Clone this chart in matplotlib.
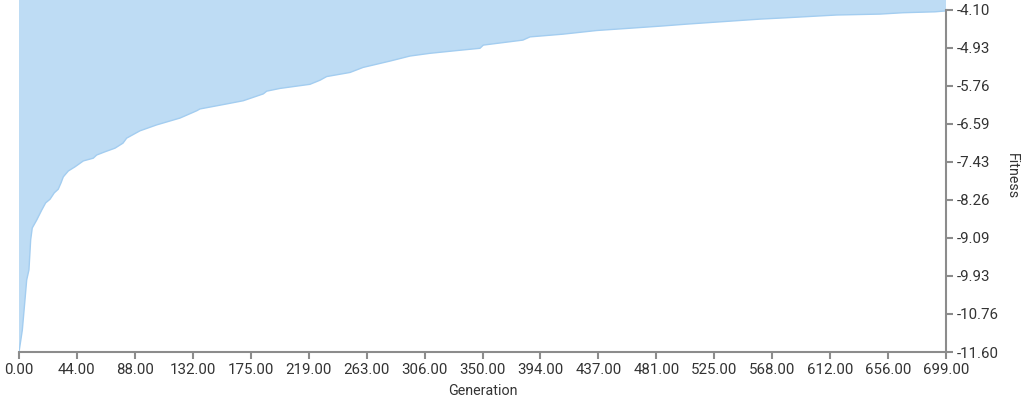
import matplotlib
matplotlib.use("Agg")
import matplotlib.pyplot as plt
import numpy as np

generation = [0, 2.5, 4.5, 5.8, 7.5, 8.8, 10.0, 13.3, 17.1, 20.1, 23.4, 26.6, 29.6, 31.7,
              33.4, 37.2, 42.2, 48.5, 56.0, 58.6, 64.8, 72.4, 78.4, 81.2, 91.2, 103.8,
              121.4, 134.0, 136.5, 156.6, 169.1, 184.2, 186.8, 196.8, 219.4, 227.0, 232.0,
              249.6, 259.4, 279.8, 294.8, 309.9, 330.1, 347.6, 350.1, 380.0, 385.3, 410.2,
              435.6, 460.7, 485.6, 503.5, 528.6, 558.8, 578.9, 616.6, 649.3, 666.6, 690.7, 699]
fitness = [-11.60, -11.12, -10.46, -10.02, -9.80, -9.14, -8.88, -8.71, -8.49, -8.33, -8.25,
           -8.11, -8.03, -7.89, -7.76, -7.63, -7.54, -7.41, -7.35, -7.28, -7.21, -7.13, -7.02,
           -6.91, -6.75, -6.62, -6.47, -6.31, -6.27, -6.16, -6.09, -5.94, -5.88, -5.82, -5.73,
           -5.64, -5.56, -5.47, -5.36, -5.22, -5.11, -5.05, -4.99, -4.94, -4.87, -4.76, -4.69,
           -4.63, -4.55, -4.50, -4.45, -4.41, -4.36, -4.30, -4.27, -4.21, -4.19, -4.16, -4.14,
           -4.12]

x_ticks = list(np.linspace(0, 699, 17))
x_labels = ["0.00", "44.00", "88.00", "132.00", "175.00", "219.00", "263.00", "306.00",
            "350.00", "394.00", "437.00", "481.00", "525.00", "568.00", "612.00", "656.00",
            "699.00"]
y_ticks = list(np.linspace(-11.6, -4.1, 10))
y_labels = ["-11.60", "-10.76", "-9.93", "-9.09", "-8.26", "-7.43", "-6.59", "-5.76",
            "-4.93", "-4.10"]

plt.rcParams['font.family'] = ['Roboto', 'DejaVu Sans']
text_color = '#333333'
axis_color = '#8c8c8c'

fig = plt.figure(figsize=(10.24, 4.0), dpi=100)
ax = fig.add_axes([19/1024, 48/400, (946-19)/1024, 352/400])

ax.fill_between(generation, fitness, 0, color='#bedcf4', linewidth=0, zorder=1)
ax.plot(generation, fitness, color='#a3cdf0', linewidth=1.0, zorder=2)

ax.set_xlim(0, 699)
ax.set_ylim(-11.6, -3.881)

for s in ['top', 'left']:
    ax.spines[s].set_visible(False)
ax.spines['bottom'].set_color(axis_color)
ax.spines['right'].set_color(axis_color)
ax.spines['bottom'].set_linewidth(1.5)
ax.spines['right'].set_linewidth(1.5)
ax.spines['right'].set_bounds(-11.6, -4.1)

ax.yaxis.tick_right()
ax.yaxis.set_label_position('right')
ax.set_xticks(x_ticks)
ax.set_xticklabels(x_labels)
ax.set_yticks(y_ticks)
ax.set_yticklabels(y_labels)
ax.tick_params(axis='both', colors=axis_color, labelcolor=text_color, labelsize=10.8,
               length=5, width=1.5, pad=3)

ax.set_xlabel('Generation', fontsize=10.3, color=text_color, labelpad=5)
ax.set_ylabel('Fitness', fontsize=10.3, color=text_color, rotation=270, labelpad=14)

fig.savefig('out.png', dpi=100)
